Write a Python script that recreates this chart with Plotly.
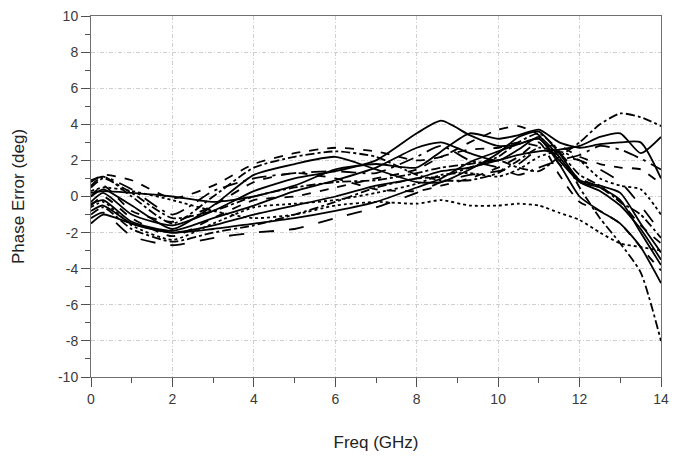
import plotly.graph_objects as go

freq = [0, 0.3, 1, 2, 3, 4, 5, 6, 7, 8, 8.6, 9.3, 10, 10.5, 11, 11.5, 12, 12.5, 13, 13.5, 14]

c1 = [-0.3, 0.2, -1.0, -1.6, -0.8, 0.3, 1.0, 1.4, 2.0, 3.5, 4.2, 3.4, 2.8, 2.9, 3.2, 2.0, 0.8, 0.3, -0.5, -1.8, -3.5]
c2 = [0.5, 1.0, 0.2, -1.2, -0.8, 0.0, 0.5, 0.8, 0.9, 1.3, 1.6, 1.8, 2.0, 1.6, 1.4, 2.2, 3.0, 4.0, 4.6, 4.4, 3.9]
c3 = [-0.8, -0.5, -1.5, -2.0, -1.6, -1.0, -0.5, 0.0, 0.6, 1.0, 1.4, 1.6, 2.0, 2.3, 2.5, 2.6, 2.8, 3.3, 3.5, 2.4, 3.3]
c4 = [0.8, 1.2, 0.9, -0.1, 0.6, 1.8, 2.4, 2.7, 2.5, 2.0, 2.2, 3.0, 3.7, 3.9, 3.4, 1.8, 1.0, 0.5, -0.3, -1.6, -2.6]
c5 = [0.3, 0.5, 0.3, -0.2, -0.8, -1.2, -1.0, -0.5, -0.3, -0.4, -0.2, -0.5, -0.5, -0.4, -0.5, -0.9, -1.3, -2.0, -2.6, -2.8, -3.0]
c6 = [-1.0, -0.6, -1.8, -2.5, -2.0, -1.6, -1.0, -0.3, 0.5, 1.0, 1.1, 1.6, 2.2, 3.0, 3.5, 2.5, 0.5, -1.2, -2.6, -4.2, -8.0]
c7 = [0.0, 0.4, -0.5, -1.8, -0.5, 1.2, 1.8, 2.2, 1.5, 0.8, 0.8, 1.5, 2.4, 3.3, 3.6, 2.4, 0.9, 0.6, 0.2, -1.5, -3.1]
c8 = [-1.2, -0.9, -2.2, -2.7, -2.3, -2.0, -1.8, -1.2, -0.6, 0.2, 0.8, 1.2, 1.4, 1.8, 2.6, 2.3, 2.0, 1.5, 0.8, -0.5, -2.0]
c9 = [-0.5, 0.0, -1.2, -2.2, -1.2, -0.2, 0.0, 0.5, 1.0, 1.5, 2.2, 2.6, 2.7, 3.0, 2.8, 2.8, 2.2, 1.8, 1.6, 1.5, 0.7]
c10 = [0.2, 0.3, 0.2, 0.0, -0.3, 0.0, 0.6, 1.5, 1.8, 1.6, 2.5, 3.5, 3.2, 3.4, 3.7, 3.0, 2.7, 2.9, 3.0, 3.0, 1.0]
c11 = [0.6, 1.1, 0.0, -1.5, 0.0, 1.6, 2.2, 2.5, 2.2, 1.2, 0.9, 0.9, 1.3, 2.0, 2.7, 2.4, 1.2, 0.6, -0.3, -1.0, -2.3]
c12 = [-1.5, -1.0, -1.5, -2.0, -1.8, -1.5, -1.2, -0.8, -0.3, 0.5, 1.0, 1.9, 2.5, 2.9, 3.2, 1.8, 0.0, -0.8, -1.5, -2.8, -4.8]
c13 = [0.0, 0.6, -0.8, -1.4, -0.5, 0.8, 1.3, 1.0, 0.4, 0.3, 0.6, 1.0, 1.6, 2.2, 3.0, 1.2, -0.3, -0.8, -1.5, -2.8, -4.1]
c14 = [-0.6, -0.3, -1.6, -2.4, -1.5, -0.6, -0.4, -0.2, 0.2, 0.7, 1.2, 1.3, 1.1, 1.5, 2.2, 2.5, 2.0, 1.0, 0.6, 0.4, -1.0]
c15 = [0.9, 1.1, 0.4, -1.0, 0.3, 1.0, 1.3, 1.4, 1.3, 2.2, 2.8, 2.0, 1.6, 1.2, 1.6, 2.0, 2.3, 2.8, 2.6, 2.1, 1.5]
c16 = [-0.4, -0.2, -1.4, -1.9, -1.2, -0.5, 0.3, 0.9, 1.6, 2.7, 3.0, 2.4, 2.0, 2.6, 3.3, 2.2, 0.8, 0.5, -0.2, -2.0, -3.8]

series = [c1, c2, c3, c4, c5, c6, c7, c8, c9, c10, c11, c12, c13, c14, c15, c16]
dashes = ["solid", "dashdot", "solid", "dash", "dot", "dashdot", "solid", "longdash",
          "dash", "solid", "dashdot", "solid", "dash", "dot", "longdashdot", "solid"]

x_ticks = [0, 2, 4, 6, 8, 10, 12, 14]
y_ticks = [-10, -8, -6, -4, -2, 0, 2, 4, 6, 8, 10]

FONT = "Liberation Sans, Arial, sans-serif"

fig = go.Figure()
for s, d in zip(series, dashes):
    fig.add_trace(go.Scatter(x=freq, y=s, mode="lines",
                             line=dict(color="black", width=1.8, dash=d, shape="spline", smoothing=0.6),
                             showlegend=False, hoverinfo="skip"))

axis_common = dict(
    showline=True, linecolor="#707070", linewidth=1, mirror=True,
    ticks="outside", ticklen=9, tickcolor="#505050", tickwidth=1,
    showgrid=True, gridcolor="#cfcfcf", gridwidth=1, griddash="4px,2px,1px,2px",
    zeroline=False, automargin=False, ticklabeloverflow="allow",
    tickfont=dict(family=FONT, size=14, color="#3a3a3a"),
    minor=dict(ticks="outside", ticklen=5, tickcolor="#505050", dtick=1, showgrid=False),
)

fig.update_xaxes(range=[0, 14], tickvals=x_ticks, ticktext=[str(v) for v in x_ticks],
                 title=dict(text="Freq (GHz)", font=dict(family=FONT, size=17, color="#222"),
                            standoff=30),
                 **axis_common)
fig.update_yaxes(range=[-10, 10], tickvals=y_ticks, ticktext=[str(v) for v in y_ticks],
                 title=dict(text="Phase Error (deg)", font=dict(family=FONT, size=17, color="#222"),
                            standoff=29),
                 **axis_common)

# the page body adds an 8px margin, so the figure is sized to fit the window
fig.update_layout(width=669, height=450, margin=dict(l=83, r=16, t=8, b=81, autoexpand=False),
                  paper_bgcolor="white", plot_bgcolor="white")

fig.write_html("out.html")
